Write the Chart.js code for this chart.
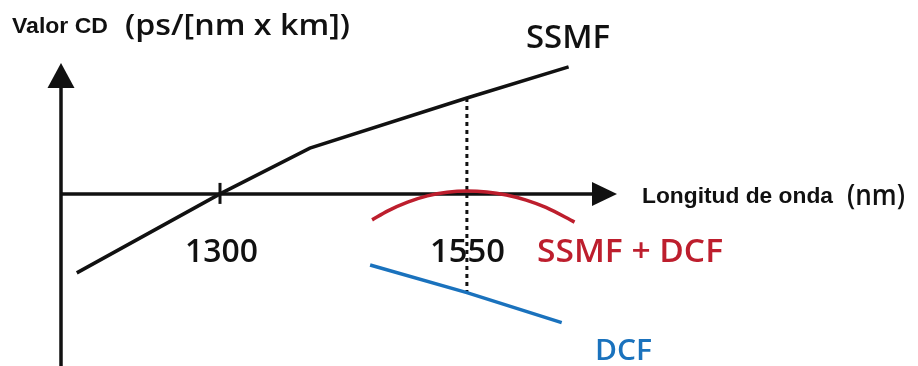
<!DOCTYPE html>
<html>
<head>
<meta charset="utf-8">
<title>Valor CD vs longitud de onda</title>
<script src="https://cdn.jsdelivr.net/npm/chart.js@4.4.1/dist/chart.umd.min.js"></script>
<style>
  html, body { margin: 0; padding: 0; background: #ffffff; }
  #wrap { position: relative; width: 918px; height: 366px; }
</style>
</head>
<body>
<div id="wrap"><canvas id="cd"></canvas></div>
<script>
// Wavelength axis (nm) and the labelled wavelengths
const xRange = [1139, 1702];
const yRange = [-30.5, 23.2];
const tickWavelengths = [1300, 1550];
const tickLabels = ['1300', '1550'];

// Standard single-mode fibre dispersion, ps/(nm·km)
const ssmfWavelength = [1155, 1300, 1391, 1550, 1653];
const ssmfCD = [-14.0, 0, 8.1, 17.0, 22.5];

// Residual dispersion after compensation (SSMF + DCF)
const compWavelength = [1454, 1470, 1490, 1510, 1530, 1550, 1570, 1590, 1610, 1630, 1659];
const compCD = [-4.6, -3.0, -1.45, -0.35, 0.3, 0.53, 0.35, -0.2, -1.1, -2.4, -5.0];

// Dispersion compensating fibre
const dcfWavelength = [1452, 1550, 1646];
const dcfCD = [-12.6, -17.5, -22.8];

// Dotted guide at 1550 nm, from the SSMF value down to the DCF value
const guideWavelength = [1550, 1550];
const guideCD = [17.0, -17.5];

const toPoints = (xs, ys) => xs.map((x, i) => ({ x, y: ys[i] }));

const RED = '#bd1e2d';
const BLUE = '#1a72bd';
const INK = '#111111';

// Draw a text string stretched to a given width, left aligned on a baseline
function fitText(ctx, text, x, baseline, font, color, width) {
  ctx.save();
  ctx.font = font;
  ctx.fillStyle = color;
  ctx.textBaseline = 'alphabetic';
  ctx.textAlign = 'left';
  const w = ctx.measureText(text).width;
  const s = width / w;
  ctx.translate(x, baseline);
  ctx.scale(s, 1);
  ctx.fillText(text, 0, 0);
  ctx.restore();
}

const axesPlugin = {
  id: 'arrowAxes',
  beforeDatasetsDraw(chart) {
    const { ctx, scales: { x, y } } = chart;
    const x0 = x.getPixelForValue(xRange[0]);
    const xEnd = x.getPixelForValue(xRange[1]);
    const y0 = y.getPixelForValue(0);
    const yTop = y.getPixelForValue(yRange[1]);
    const yBottom = y.getPixelForValue(yRange[0]);
    ctx.save();
    ctx.strokeStyle = INK;
    ctx.fillStyle = INK;
    ctx.lineWidth = 3.5;
    // vertical axis
    ctx.beginPath();
    ctx.moveTo(x0, yBottom);
    ctx.lineTo(x0, yTop + 20);
    ctx.stroke();
    ctx.beginPath();
    ctx.moveTo(x0, yTop);
    ctx.lineTo(x0 - 13.5, yTop + 25);
    ctx.lineTo(x0 + 13.5, yTop + 25);
    ctx.closePath();
    ctx.fill();
    // horizontal axis (CD = 0)
    ctx.beginPath();
    ctx.moveTo(x0, y0);
    ctx.lineTo(xEnd - 20, y0);
    ctx.stroke();
    ctx.beginPath();
    ctx.moveTo(xEnd, y0);
    ctx.lineTo(xEnd - 25, y0 - 12);
    ctx.lineTo(xEnd - 25, y0 + 12);
    ctx.closePath();
    ctx.fill();
    // tick mark at 1300 nm
    const t = x.getPixelForValue(tickWavelengths[0]);
    ctx.lineWidth = 3;
    ctx.beginPath();
    ctx.moveTo(t, y0 - 11);
    ctx.lineTo(t, y0 + 10);
    ctx.stroke();
    ctx.restore();
  },
  afterDraw(chart) {
    const { ctx, scales: { x } } = chart;
    const sans = '"Open Sans", "Noto Sans", sans-serif';
    const arial = '"Liberation Sans", Arial, sans-serif';
    // axis titles
    fitText(ctx, 'Valor CD', 12, 33, 'bold 22px ' + arial, INK, 96);
    fitText(ctx, '(ps/[nm x km])', 125, 35, '600 29px ' + sans, INK, 225);
    fitText(ctx, 'Longitud de onda', 642, 203, 'bold 22px ' + arial, INK, 191);
    fitText(ctx, '(nm)', 847, 205, '600 28px ' + sans, INK, 58);
    // tick labels, centred under their wavelengths
    fitText(ctx, tickLabels[0], x.getPixelForValue(tickWavelengths[0]) - 35, 262, '600 32px ' + sans, INK, 73);
    fitText(ctx, tickLabels[1], x.getPixelForValue(tickWavelengths[1]) - 37, 262, '600 32px ' + sans, INK, 75);
    // series labels
    fitText(ctx, 'SSMF', 526, 48, '600 32px ' + sans, INK, 84);
    fitText(ctx, 'SSMF + DCF', 537, 262, '600 33px ' + sans, RED, 186);
    fitText(ctx, 'DCF', 595, 360, '600 29px ' + sans, BLUE, 57);
  }
};

new Chart(document.getElementById('cd'), {
  type: 'line',
  data: {
    datasets: [
      {
        label: 'SSMF',
        data: toPoints(ssmfWavelength, ssmfCD),
        borderColor: INK,
        borderWidth: 3.5,
        tension: 0,
        pointRadius: 0
      },
      {
        label: 'SSMF + DCF',
        data: toPoints(compWavelength, compCD),
        borderColor: RED,
        borderWidth: 3.5,
        cubicInterpolationMode: 'monotone',
        pointRadius: 0
      },
      {
        label: 'DCF',
        data: toPoints(dcfWavelength, dcfCD),
        borderColor: BLUE,
        borderWidth: 3.5,
        tension: 0,
        pointRadius: 0
      },
      {
        label: '1550 nm',
        data: toPoints(guideWavelength, guideCD),
        borderColor: INK,
        borderWidth: 3,
        borderDash: [4, 4],
        tension: 0,
        pointRadius: 0
      }
    ]
  },
  options: {
    responsive: true,
    maintainAspectRatio: false,
    animation: false,
    events: [],
    clip: false,
    layout: { padding: { left: 61, right: 301, top: 63, bottom: 0 } },
    scales: {
      x: { type: 'linear', min: xRange[0], max: xRange[1], display: false },
      y: { type: 'linear', min: yRange[0], max: yRange[1], display: false }
    },
    plugins: {
      legend: { display: false },
      tooltip: { enabled: false }
    }
  },
  plugins: [axesPlugin]
});
</script>
</body>
</html>
